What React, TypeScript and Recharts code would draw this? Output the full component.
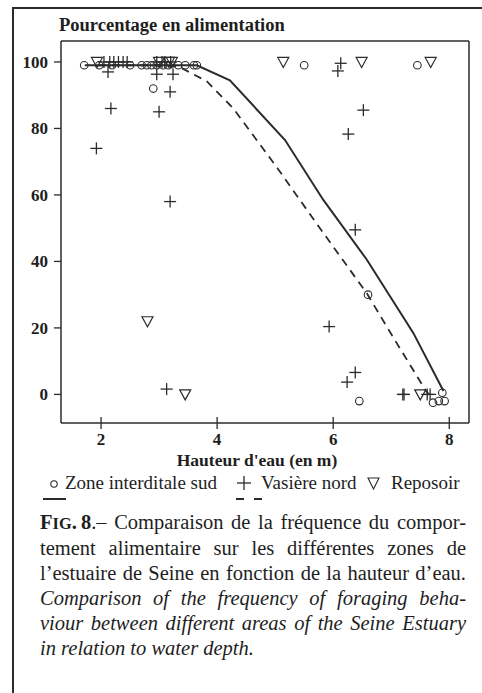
import { Label, Scatter, ScatterChart, XAxis, YAxis } from "recharts";

const INK = "#2b2b2b";
const SERIF = "'Liberation Serif', 'Times New Roman', serif";

const X_TICKS = [2, 4, 6, 8];
const Y_TICKS = [0, 20, 40, 60, 80, 100];
const X_DOMAIN = [1.31, 8.34];
const Y_DOMAIN = [-8.6, 106.3];

// Zone interditale sud (circles)
const sudPoints: [number, number][] = [
  [1.71, 99], [1.97, 99], [2.19, 99], [2.5, 99], [2.7, 99], [2.79, 99],
  [2.87, 99], [2.96, 99], [3.07, 99], [3.16, 99], [3.33, 99], [3.45, 99],
  [3.6, 99], [3.65, 99], [2.9, 92], [5.5, 99], [7.45, 99], [6.6, 30],
  [6.45, -2], [7.72, -2.5], [7.82, -2], [7.88, 0.5], [7.92, -2],
];

// Vasière nord (plus signs)
const nordPoints: [number, number][] = [
  [2.05, 100], [2.15, 100], [2.22, 100], [2.3, 100], [2.38, 100], [2.45, 100],
  [2.12, 97], [2.96, 100], [3.05, 100], [3.1, 100], [3.2, 100],
  [2.96, 96.3], [3.24, 96.3], [3.19, 91], [2.17, 86], [3.0, 85],
  [1.92, 74], [3.19, 58], [6.08, 97.3], [6.13, 99.6], [6.52, 85.5],
  [6.26, 78.3], [6.38, 49.5], [5.93, 20.4], [6.24, 3.7], [6.38, 6.6],
  [3.13, 1.6], [7.2, 0], [7.22, 0], [7.62, 0], [7.67, 0],
];

// Reposoir (triangles)
const reposoirPoints: [number, number][] = [
  [1.93, 100], [3.0, 100], [3.17, 100], [3.22, 100], [5.14, 100],
  [6.49, 100], [7.68, 100], [2.8, 22], [3.45, 0], [7.5, 0],
];

// fitted curves
const sudCurve: [number, number][] = [
  [1.72, 99], [3.65, 99], [4.22, 94.5], [5.17, 76.5], [5.83, 58.5],
  [6.58, 40.5], [7.38, 18.5], [7.9, 1],
];
const nordCurve: [number, number][] = [
  [1.95, 99], [3.0, 99], [3.35, 98.5], [3.82, 94.2], [4.28, 86],
  [5.0, 69], [5.75, 50.5], [6.58, 30.4], [7.04, 17], [7.6, 1], [7.65, 0],
];

const toRows = (pts: [number, number][]) => pts.map(([x, y]) => ({ x, y }));

const CircleMark = (p: any) => (
  <circle cx={p.cx} cy={p.cy} r={3.8} fill="none" stroke={INK} strokeWidth={1.1} />
);

const PlusMark = (p: any) => (
  <g stroke={INK} strokeWidth={1.3}>
    <line x1={p.cx - 6} x2={p.cx + 6} y1={p.cy} y2={p.cy} />
    <line x1={p.cx} x2={p.cx} y1={p.cy - 6} y2={p.cy + 6} />
  </g>
);

const TriangleMark = (p: any) => (
  <path
    d={`M${p.cx - 5.5},${p.cy - 4.5} L${p.cx + 5.5},${p.cy - 4.5} L${p.cx},${p.cy + 5.5} Z`}
    fill="none"
    stroke={INK}
    strokeWidth={1.2}
  />
);

const NoMark = () => <g />;

const tickFont = {
  fontFamily: SERIF,
  fontWeight: 700,
  fontSize: 17,
  fill: "#1e1e1e",
};

// bottom ticks cross the axis line, so draw the inner half ourselves
const XTick = (p: any) => {
  const axisY = p.y - 10;
  return (
    <g>
      <line x1={p.x} x2={p.x} y1={axisY - 6} y2={axisY} stroke={INK} strokeWidth={1.3} />
      <text x={p.x} y={p.y} dy="0.71em" textAnchor="middle" style={tickFont}>
        {p.payload.value}
      </text>
    </g>
  );
};

const axisLine = { stroke: INK, strokeWidth: 1.5 };
const tickLine = { stroke: INK, strokeWidth: 1.3 };

function Chart() {
  return (
    <ScatterChart
      width={482}
      height={480}
      margin={{ top: 40, right: 0, bottom: 0, left: 0 }}
    >
      <XAxis
        xAxisId="b"
        type="number"
        dataKey="x"
        domain={X_DOMAIN}
        ticks={X_TICKS}
        allowDataOverflow
        interval={0}
        height={57}
        tickSize={6}
        tickMargin={4}
        tick={<XTick />}
        axisLine={axisLine}
        tickLine={tickLine}
      >
        <Label
          value="Hauteur d'eau (en m)"
          position="insideBottom"
          offset={14}
          dx={-8}
          style={{ ...tickFont, fontSize: 17.5 }}
        />
      </XAxis>
      <XAxis
        xAxisId="t"
        orientation="top"
        type="number"
        domain={X_DOMAIN}
        allowDataOverflow
        height={1}
        tick={false}
        tickLine={false}
        axisLine={axisLine}
      />
      <YAxis
        yAxisId="l"
        type="number"
        dataKey="y"
        domain={Y_DOMAIN}
        ticks={Y_TICKS}
        allowDataOverflow
        interval={0}
        width={61}
        tickSize={7}
        tickMargin={6}
        tick={tickFont}
        axisLine={axisLine}
        tickLine={tickLine}
      />
      <YAxis
        yAxisId="r"
        orientation="right"
        type="number"
        domain={Y_DOMAIN}
        ticks={Y_TICKS}
        allowDataOverflow
        interval={0}
        width={13}
        tickSize={8}
        tick={false}
        axisLine={axisLine}
        tickLine={tickLine}
      />
      <Scatter
        xAxisId="b"
        yAxisId="l"
        data={toRows(sudCurve)}
        shape={NoMark}
        line={{ stroke: INK, strokeWidth: 2 }}
        isAnimationActive={false}
      />
      <Scatter
        xAxisId="b"
        yAxisId="l"
        data={toRows(nordCurve)}
        shape={NoMark}
        line={{ stroke: INK, strokeWidth: 1.8, strokeDasharray: "8 6" }}
        isAnimationActive={false}
      />
      <Scatter
        xAxisId="b"
        yAxisId="l"
        data={toRows(sudPoints)}
        shape={CircleMark}
        isAnimationActive={false}
      />
      <Scatter
        xAxisId="b"
        yAxisId="l"
        data={toRows(nordPoints)}
        shape={PlusMark}
        isAnimationActive={false}
      />
      <Scatter
        xAxisId="b"
        yAxisId="l"
        data={toRows(reposoirPoints)}
        shape={TriangleMark}
        isAnimationActive={false}
      />
    </ScatterChart>
  );
}

function LegendRow() {
  const base = 21;
  const text = { fontFamily: SERIF, fontSize: 19, fill: "#1e1e1e" };
  return (
    <svg width={482} height={40} style={{ position: "absolute", left: 0, top: 468 }}>
      <circle cx={54} cy={base - 5} r={3.2} fill="none" stroke={INK} strokeWidth={1.1} />
      <line x1={43} x2={66} y1={base + 10} y2={base + 10} stroke={INK} strokeWidth={2} />
      <text x={65} y={base} style={text}>Zone interditale sud</text>
      <g stroke={INK} strokeWidth={1.3}>
        <line x1={237} x2={251} y1={base - 6} y2={base - 6} />
        <line x1={244} x2={244} y1={base - 13} y2={base + 1} />
      </g>
      <line x1={236} x2={262} y1={base + 10} y2={base + 10} stroke={INK} strokeWidth={2} strokeDasharray="8 10" />
      <text x={261} y={base} style={text}>Vasière nord</text>
      <path
        d={`M368,${base - 11} L379,${base - 11} L373.5,${base} Z`}
        fill="none"
        stroke={INK}
        strokeWidth={1.1}
      />
      <text x={391} y={base} style={text}>Reposoir</text>
    </svg>
  );
}

const lineStyle = {
  textAlign: "justify" as const,
  textAlignLast: "justify" as const,
  whiteSpace: "nowrap" as const,
};

function Caption() {
  return (
    <div
      style={{
        position: "absolute",
        left: 40,
        top: 510,
        width: 426,
        fontFamily: SERIF,
        fontSize: 20.5,
        lineHeight: "25px",
        color: "#1e1e1e",
      }}
    >
      <div style={lineStyle}>
        <b>
          F<span style={{ fontSize: "0.8em" }}>IG</span>.&#8201;8
        </b>
        .– Comparaison de la fréquence du compor-
      </div>
      <div style={lineStyle}>tement alimentaire sur les différentes zones de</div>
      <div style={lineStyle}>l’estuaire de Seine en fonction de la hauteur d’eau.</div>
      <div style={{ ...lineStyle, fontStyle: "italic" }}>
        Comparison of the frequency of foraging beha-
      </div>
      <div style={{ ...lineStyle, fontStyle: "italic" }}>
        viour between different areas of the Seine Estuary
      </div>
      <div style={{ fontStyle: "italic" }}>in relation to water depth.</div>
    </div>
  );
}

export default function App() {
  return (
    <div
      style={{
        position: "absolute",
        left: 0,
        top: 0,
        width: 482,
        height: 693,
        overflow: "hidden",
        background: "#fff",
      }}
    >
      <div
        style={{
          position: "absolute",
          left: 12,
          top: 7,
          width: 490,
          height: 720,
          border: `2px solid ${INK}`,
        }}
      />
      <div
        style={{
          position: "absolute",
          left: 59,
          top: 16,
          fontFamily: SERIF,
          fontWeight: 700,
          fontSize: 18.5,
          lineHeight: "18px",
          color: "#1e1e1e",
          whiteSpace: "nowrap",
        }}
      >
        Pourcentage en alimentation
      </div>
      <div style={{ position: "absolute", left: 0, top: 0 }}>
        <Chart />
      </div>
      <LegendRow />
      <Caption />
    </div>
  );
}
